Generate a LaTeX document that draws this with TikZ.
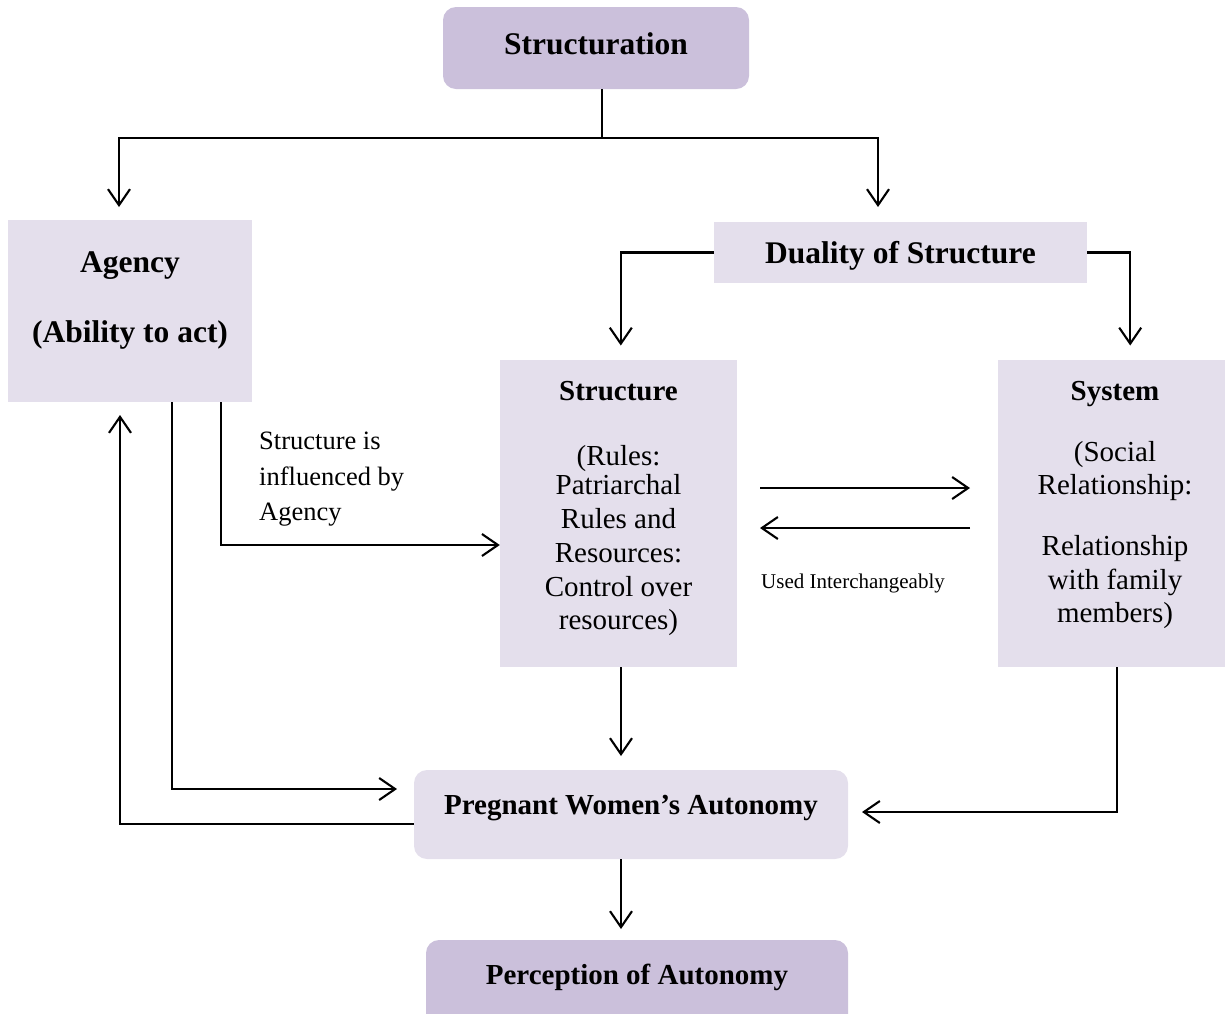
\documentclass[tikz,border=0pt]{standalone}
\usepackage{fontspec}
\setmainfont{Liberation Serif}
\usetikzlibrary{arrows.meta}
\definecolor{boxdark}{HTML}{CBC0DB}
\definecolor{boxlight}{HTML}{E4DFEC}
\tikzset{
  darkbox/.style={fill=boxdark, draw=none, rounded corners=13pt, inner sep=0pt},
  lightbox/.style={fill=boxlight, draw=none, inner sep=0pt},
  lightround/.style={fill=boxlight, draw=none, rounded corners=13pt, inner sep=0pt},
  conn/.style={line width=2.1pt, -{Straight Barb[length=16pt,width=22pt,line width=2.1pt]}},
  plainline/.style={line width=2.1pt},
  bigtitle/.style={font=\bfseries\fontsize{31.5}{36}\selectfont, anchor=base, inner sep=0pt},
  title/.style={font=\bfseries\fontsize{29}{34}\selectfont, anchor=base, inner sep=0pt},
  body/.style={font=\fontsize{29}{34}\selectfont, anchor=base, inner sep=0pt},
  side/.style={font=\fontsize{26.5}{35}\selectfont, anchor=base west, inner sep=0pt},
  small/.style={font=\fontsize{21}{25}\selectfont, anchor=base west, inner sep=0pt},
}
\begin{document}
\begin{tikzpicture}[x=1pt,y=-1pt]
\useasboundingbox (0,0) rectangle (1225,1013);
\begin{scope}
\clip (0,0) rectangle (1225,1013);
% boxes
\node[darkbox, minimum width=306pt, minimum height=82pt] (strn) at (596,48) {};
\node[lightbox, minimum width=244pt, minimum height=182pt] (agency) at (130,311) {};
\node[lightbox, minimum width=373pt, minimum height=61pt] (duality) at (900.5,252.5) {};
\node[lightbox, minimum width=237pt, minimum height=307pt] (structure) at (618.5,513.5) {};
\node[lightbox, minimum width=227pt, minimum height=307pt] (system) at (1111.5,513.5) {};
\node[lightround, minimum width=434pt, minimum height=89pt] (preg) at (631,814.5) {};
\node[darkbox, minimum width=422pt, minimum height=100pt] (perc) at (637,990) {};
\end{scope}
% texts
\node[bigtitle] (t1) at (596,54) {Structuration};
\node[bigtitle] (t2) at (130,272) {Agency};
\node[bigtitle] (t3) at (130,342) {(Ability to act)};
\node[bigtitle] (t4) at (900.5,263) {Duality of Structure};
\node[title] (t5) at (618.5,400) {Structure};
\node[body] (s1) at (618.5,465) {(Rules:};
\node[body] (s2) at (618.5,494) {Patriarchal};
\node[body] (s3) at (618.5,528) {Rules and};
\node[body] (s4) at (618.5,562) {Resources:};
\node[body] (s5) at (618.5,596) {Control over};
\node[body] (s6) at (618.5,629) {resources)};
\node[title] (t6) at (1115,400) {System};
\node[body] (y1) at (1115,461) {(Social};
\node[body] (y2) at (1115,494) {Relationship:};
\node[body] (y3) at (1115,555) {Relationship};
\node[body] (y4) at (1115,589) {with family};
\node[body] (y5) at (1115,622) {members)};
\node[side] (a1) at (259,449) {Structure is};
\node[side] (a2) at (259,485) {influenced by};
\node[side] (a3) at (259,520) {Agency};
\node[small] (u1) at (761,588) {Used Interchangeably};
\node[title] (t7) at (631,814) {Pregnant Women’s Autonomy};
\node[title] (t8) at (637,984) {Perception of Autonomy};
% coordinates
\coordinate (split) at (602,138);
\coordinate (lefttop) at (119,138);
\coordinate (righttop) at (878,138);
\coordinate (agtgt) at (119,207);
\coordinate (dutgt) at (878,207);
\coordinate (backup) at (120,415);
% connectors
\draw[plainline] (strn.south -| split) -- (split);
\draw[conn] (split) -- (lefttop) -- (agtgt);
\draw[conn] (split) -- (righttop) -- (dutgt);
\draw[conn] (duality.west) -- ++(-93,0) -- ++(0,93);
\draw[conn] (duality.east) -- ++(43,0) -- ++(0,93);
\draw[conn] (agency.south -| 221,0) -- (221,545) -- (structure.west |- 0,545);
\draw[conn] (agency.south -| 172,0) -- (172,789) -- (397,789);
\draw[conn] (preg.west |- 0,824) -- (120,824) -- (backup);
\draw[conn] (760,488) -- (970,488);
\draw[conn] (970,528) -- (760,528);
\draw[conn] (structure.south -| 621,0) -- (621,756);
\draw[conn] (system.south -| 1117,0) -- (1117,812) -- (862,812);
\draw[conn] (preg.south -| 621,0) -- (621,929);
\end{tikzpicture}
\end{document}
